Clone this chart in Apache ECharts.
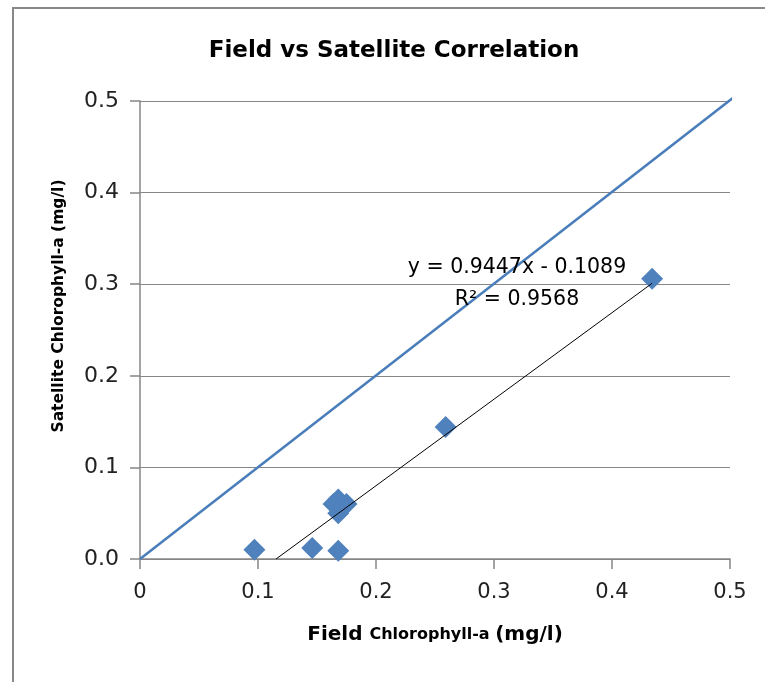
<!DOCTYPE html>
<html>
<head>
<meta charset="utf-8">
<script src="https://cdn.jsdelivr.net/npm/echarts@6/dist/echarts.min.js"></script>
<style>html,body{margin:0;padding:0;background:#fff;}#c{width:765px;height:682px;}</style>
</head>
<body>
<div id="c"></div>
<script>
var fieldValues = [0.097, 0.146, 0.168, 0.164, 0.168, 0.175, 0.168, 0.259, 0.434];
var satelliteValues = [0.010, 0.012, 0.009, 0.060, 0.065, 0.060, 0.050, 0.144, 0.306];
var oneToOneLine = [[0, 0], [0.508, 0.509]];
var trendLine = [[0.1153, 0], [0.434, 0.301]];
var xTicks = [0, 0.1, 0.2, 0.3, 0.4, 0.5];
var yTicks = [0, 0.1, 0.2, 0.3, 0.4, 0.5];
var equationText = 'y = 0.9447x - 0.1089';
var r2Text = 'R² = 0.9568';

var points = fieldValues.map(function (v, i) { return [v, satelliteValues[i]]; });
var FONT = '"DejaVu Sans", sans-serif';
var chart = echarts.init(document.getElementById('c'));
chart.setOption({
  animation: false,
  backgroundColor: '#fff',
  title: {
    text: 'Field vs Satellite Correlation',
    left: 389, top: 35, textAlign: 'center',
    textStyle: { fontFamily: FONT, fontWeight: 'bold', fontSize: 23, color: '#000' }
  },
  grid: { left: 140, right: 35, top: 101, bottom: 123 },
  xAxis: {
    type: 'value', min: xTicks[0], max: xTicks[xTicks.length - 1], interval: 0.1,
    axisLine: { show: true, lineStyle: { color: '#868686', width: 1.5 } },
    axisTick: { show: true, length: 10, lineStyle: { color: '#868686', width: 1.5 } },
    splitLine: { show: false },
    axisLabel: { margin: 23, fontFamily: FONT, fontSize: 21, color: '#222',
      formatter: function (v) { return v === 0 ? '0' : v.toFixed(1); } },
    name: '{a|Field }{b|Chlorophyll-a }{a|(mg/l)}',
    nameLocation: 'middle', nameGap: 66,
    nameTextStyle: { rich: {
      a: { fontFamily: FONT, fontWeight: 'bold', fontSize: 20, color: '#000' },
      b: { fontFamily: FONT, fontWeight: 'bold', fontSize: 16, color: '#000' }
    } }
  },
  yAxis: {
    type: 'value', min: yTicks[0], max: yTicks[yTicks.length - 1], interval: 0.1,
    axisLine: { show: true, lineStyle: { color: '#868686', width: 1.5 } },
    axisTick: { show: true, length: 10, lineStyle: { color: '#868686', width: 1.5 } },
    splitLine: { show: true, lineStyle: { color: '#868686', width: 1 } },
    axisLabel: { margin: 21, fontFamily: FONT, fontSize: 22, color: '#222',
      formatter: function (v) { return v.toFixed(1); } },
    name: 'Satellite Chlorophyll-a (mg/l)',
    nameLocation: 'middle', nameGap: 73,
    nameTextStyle: { fontFamily: FONT, fontWeight: 'bold', fontSize: 15.5, color: '#000', padding: [0, 0, 0, 48] }
  },
  series: [
    {
      type: 'line', data: oneToOneLine, symbol: 'none', clip: false,
      lineStyle: { color: '#4A7EBB', width: 2.5 }, z: 2
    },
    {
      type: 'scatter', data: points, symbol: 'diamond', symbolSize: [22, 22],
      itemStyle: { color: '#4F81BD', opacity: 1 }, z: 3
    },
    {
      type: 'line', data: trendLine, symbol: 'none',
      lineStyle: { color: '#000', width: 1 }, z: 4
    }
  ],
  graphic: [
    { type: 'rect', shape: { x: 13, y: 8, width: 2000, height: 2000 }, style: { fill: 'none', stroke: '#898989', lineWidth: 2 }, z: -1, silent: true },
    { type: 'text', x: 517, y: 268, style: { text: equationText, fontFamily: FONT, fontSize: 20.5, fill: '#000', align: 'center', verticalAlign: 'middle' }, z: 10 },
    { type: 'text', x: 517, y: 300, style: { text: r2Text, fontFamily: FONT, fontSize: 20.5, fill: '#000', align: 'center', verticalAlign: 'middle' }, z: 10 }
  ]
});
</script>
</body>
</html>
